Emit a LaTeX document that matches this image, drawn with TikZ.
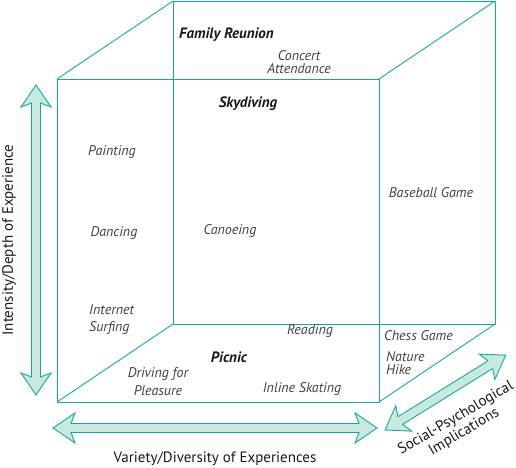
\documentclass[tikz,border=0pt]{standalone}
\usepackage{fontspec}
\setmainfont{PT Sans}
\usetikzlibrary{positioning}
\definecolor{cubeline}{RGB}{22,170,150}
\definecolor{arrowfill}{RGB}{200,233,225}
\tikzstyle{edge} = [cubeline, line width=0.9pt]
\tikzstyle{activity} = [font=\itshape\fontsize{14}{17}\selectfont, text=black!75, align=left, inner sep=0pt]
\tikzstyle{strong} = [font=\bfseries\itshape\fontsize{15}{17}\selectfont, text=black!90, inner sep=0pt]
\tikzstyle{axis} = [font=\fontsize{15}{16}\selectfont, text=black!90, align=center, inner sep=0pt]
\tikzstyle{bigarrow} = [draw=cubeline, fill=arrowfill, line width=0.9pt, line join=miter]
% double headed arrow, length #1 along x, starting at the pic origin
\tikzset{pics/dblarrow/.style={code={
  \path[bigarrow] (0,0) -- (22,15) -- (18,4.5) -- (#1-18,4.5) -- (#1-22,15) -- (#1,0)
    -- (#1-22,-15) -- (#1-18,-4.5) -- (18,-4.5) -- (22,-15) -- cycle;
}}}

\begin{document}
\begin{tikzpicture}[x=1pt, y=1pt]
        \useasboundingbox (0,0) rectangle (516,467);

        % cube corners (front and back face)
        \coordinate (fbl) at (57,65);
        \coordinate (ftl) at (57,388);
        \coordinate (ftr) at (379,388);
        \coordinate (fbr) at (379,65);
        \coordinate (bbl) at (173,143);
        \coordinate (btl) at (173,466);
        \coordinate (btr) at (495,466);
        \coordinate (bbr) at (495,143);

        \draw [edge] (fbl) rectangle (ftr);
        \draw [edge] (bbl) rectangle (btr);
        \draw [edge] (fbl) -- (bbl);
        \draw [edge] (ftl) -- (btl);
        \draw [edge] (ftr) -- (btr);
        \draw [edge] (fbr) -- (bbr);

        % axis arrows
        \pic at (36,382) [rotate=-90] {dblarrow=310};
        \pic at (53,39) {dblarrow=324};
        \pic at (385,37) [rotate=31.8] {dblarrow=142};

        \node (depth) [axis, rotate=90] at (9,227) {Intensity/Depth of Experience};
        \node (variety) [axis] at (215,8) {Variety/Diversity of Experiences};
        \node (social) [axis, rotate=30.5] at (460,42) {Social-Psychological\\Implications};

        % activities
        \node (reunion) [strong, anchor=west] at (179,432) {Family Reunion};
        \node (concert) [activity, align=center, font=\itshape\fontsize{14}{13}\selectfont] at (299,405) {Concert\\Attendance};
        \node (skydiving) [strong] at (248,363) {Skydiving};
        \node (painting) [activity] at (112,315) {Painting};
        \node (dancing) [activity] at (114,234) {Dancing};
        \node (canoeing) [activity] at (230,236) {Canoeing};
        \node (baseball) [activity] at (431,274) {Baseball Game};
        \node (internet) [activity, anchor=west] at (89,147) {Internet\\Surfing};
        \node (reading) [activity] at (310,136) {Reading};
        \node (chess) [activity, anchor=west] at (384,131) {Chess Game};
        \node (hike) [activity, anchor=west, font=\itshape\fontsize{14}{13}\selectfont] at (386,104) {Nature\\Hike};
        \node (picnic) [strong] at (229,110) {Picnic};
        \node (driving) [activity, align=center, font=\itshape\fontsize{14}{18}\selectfont] at (158,85) {Driving for\\Pleasure};
        \node (skating) [activity] at (302,78) {Inline Skating};

    \end{tikzpicture}
\end{document}
